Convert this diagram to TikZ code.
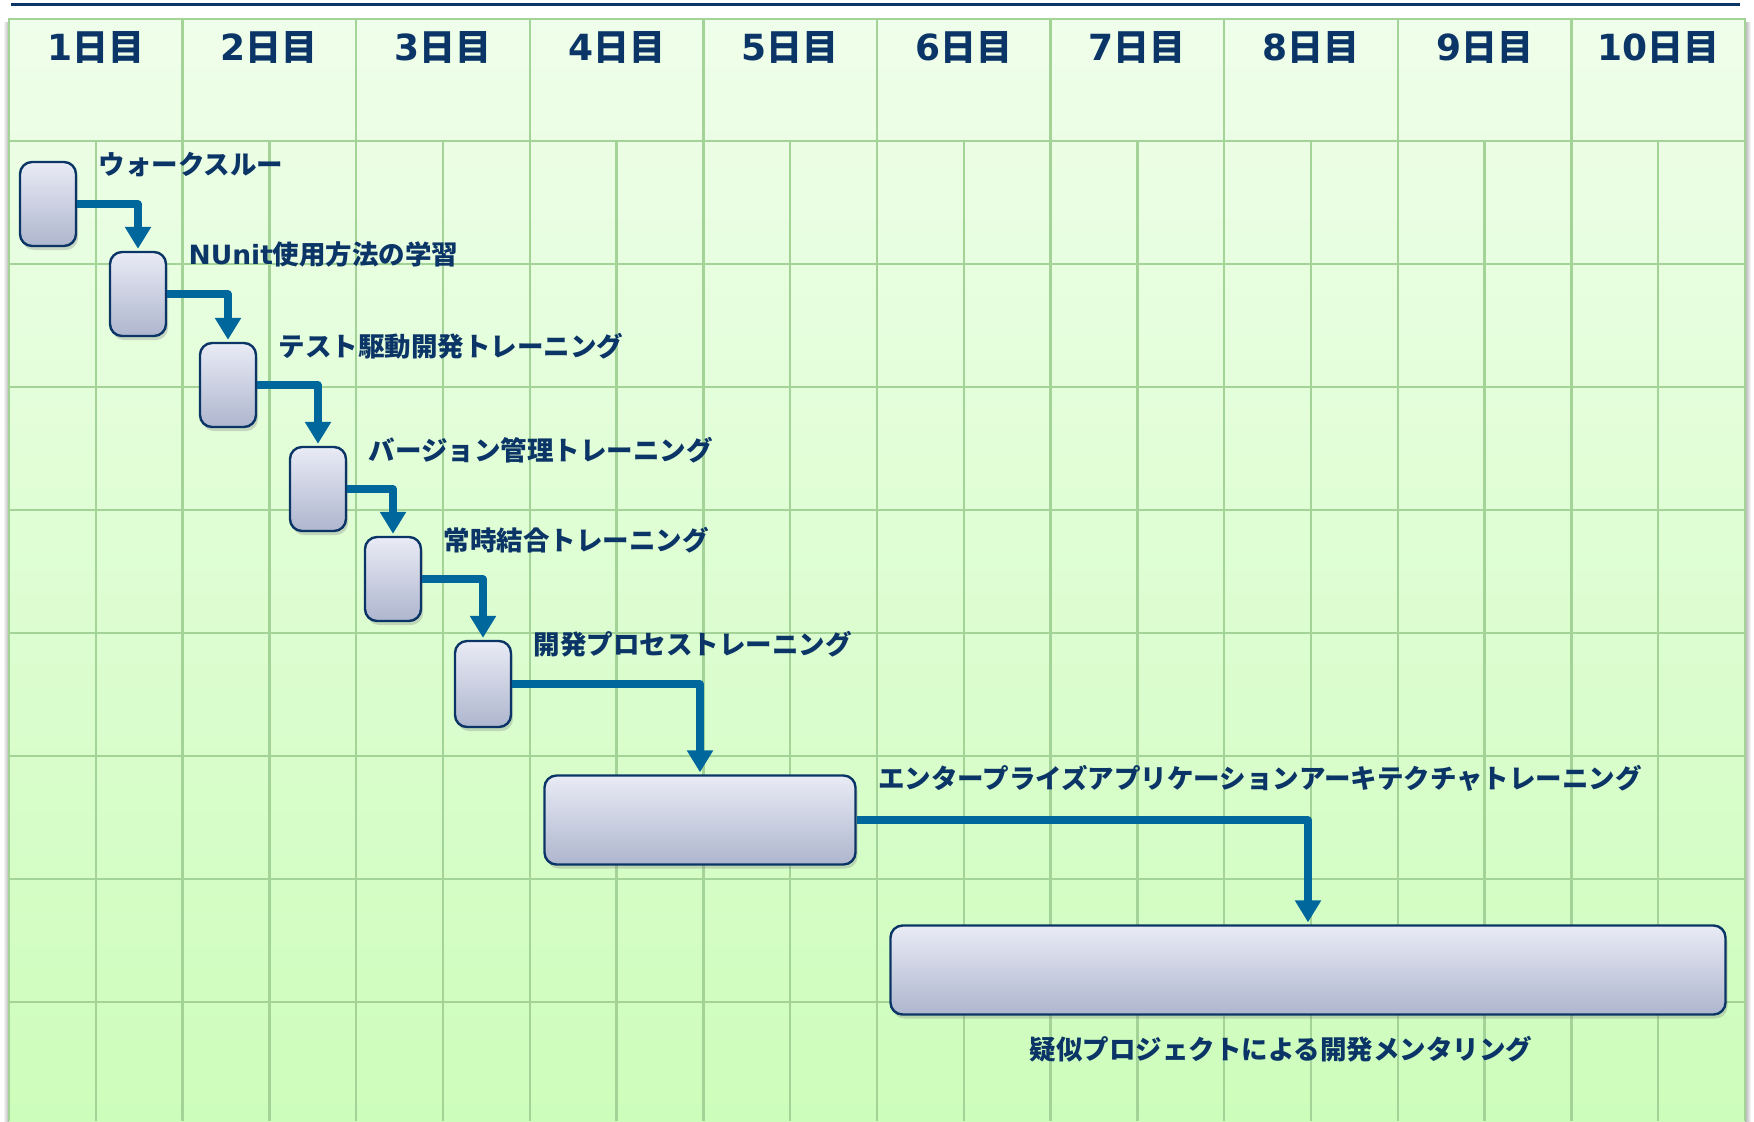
\documentclass[tikz,border=0pt]{standalone}
\usepackage{fontspec}
\setmainfont{DejaVu Sans}
\newfontfamily\lfont{DejaVu Sans}
\newfontfamily\jfont{Noto Sans CJK JP}
\usetikzlibrary{shadows,arrows.meta,positioning}

\definecolor{navy}{HTML}{0B3566}
\definecolor{flow}{HTML}{00679C}
\definecolor{gridline}{HTML}{A3D396}
\definecolor{bartop}{HTML}{E9EBF5}
\definecolor{barbot}{HTML}{AEB6CE}
\definecolor{bgtop}{HTML}{EFFEEA}
\definecolor{bgbot}{HTML}{CDFDBB}

\tikzset{
  task/.style={draw=navy, line width=1.2pt, rounded corners=6pt,
    top color=bartop, bottom color=barbot, inner sep=0pt,
    drop shadow={shadow xshift=1pt, shadow yshift=-2pt, opacity=0.3}},
  tasklabel/.style={anchor=west, inner sep=0pt, text=navy,
    font=\bfseries\jfont\fontsize{13.25}{15}\selectfont},
  dayhead/.style={inner sep=0pt, text=navy,
    font=\bfseries\fontsize{18}{20}\selectfont},
  flowline/.style={draw=flow, line width=3.6pt, line join=round,
    -{Triangle[width=12.5pt,length=11pt]}, shorten >=1pt},
  gridrule/.style={gridline, line width=1.2pt},
}

\begin{document}
\begin{tikzpicture}[x=0.5pt, y=-0.5pt]
  \useasboundingbox (0,0) rectangle (1754,1121);
  % rule at the top
  \draw[navy, line width=1.5pt] (11,4.5) -- (1740,4.5);
  % panel
  \shade[left color=white, right color=black!30] (3,22) rectangle (9,1121);
  \shade[left color=black!30, right color=white] (1745,22) rectangle (1751,1121);
  \shade[top color=bgtop, bottom color=bgbot] (9,19) rectangle (1745,1121);
  \draw[gridrule] (9,1121) -- (9,19) -- (1745,19) -- (1745,1121);
  % grid
  \foreach \i in {1, ..., 9} {
    \draw[gridrule] ({9+173.6*\i},19) -- ({9+173.6*\i},141);
  }
  \foreach \i in {1, ..., 19} {
    \draw[gridrule] ({9+86.8*\i},141) -- ({9+86.8*\i},1121);
  }
  \foreach \j in {0, ..., 7} {
    \draw[gridrule] (9,{141+123*\j}) -- (1745,{141+123*\j});
  }
  % days
  \foreach \d in {1, ..., 10} {
    \node[dayhead] (d\d) at ({9+173.6*(\d-0.5)},47) {\d{\jfont 日目}};
  }
  % tasks
  \foreach \n/\x/\y/\w/\h in {1/48/204/28/42, 2/138/294/28/42, 3/228/385/28/42,
      4/318/489/28/42, 5/393/579/28/42, 6/483/684/28/43,
      7/700/820/155.5/44.5, 8/1308/970/417.5/44.5} {
    \node[task, minimum width=\w pt, minimum height=\h pt] (b\n) at (\x,\y) {};
  }
  \foreach \n/\t in {1/ウォークスルー, 2/{\lfont NUnit}使用方法の学習,
      3/テスト駆動開発トレーニング, 4/バージョン管理トレーニング,
      5/常時結合トレーニング, 6/開発プロセストレーニング,
      7/エンタープライズアプリケーションアーキテクチャトレーニング} {
    \node[tasklabel] (l\n) at ([xshift=10.5pt, yshift=-2pt]b\n.north east) {\t};
  }
  \node[tasklabel, anchor=center] (l8) at (1281,1049) {疑似プロジェクトによる開発メンタリング};
  % flow
  \foreach \i in {1, ..., 7} {
    \pgfmathtruncatemacro{\j}{\i + 1}
    \draw[flowline] (b\i.east) -| (b\j.north);
  }
\end{tikzpicture}
\end{document}
